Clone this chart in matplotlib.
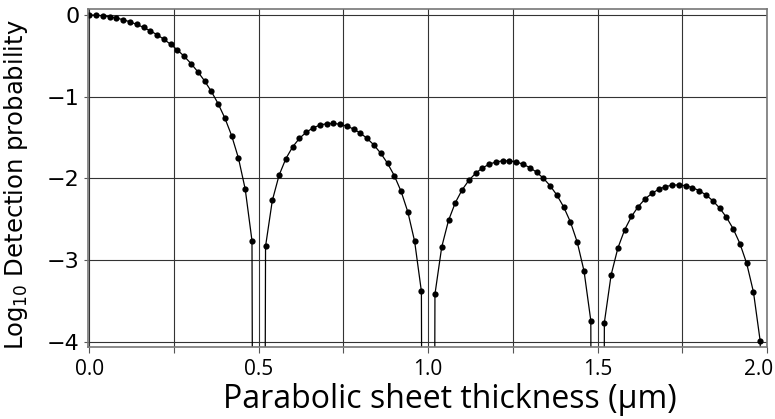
import numpy as np
import matplotlib
matplotlib.use('Agg')
import matplotlib.pyplot as plt
from matplotlib.ticker import MultipleLocator

# thickness in um, step 0.02
thickness = np.round(np.arange(101) * 0.02, 2)

# log10 detection probability (zeros fall far below the axis)
log_prob = [
    0.0, -0.002, -0.009, -0.021, -0.037, -0.058, -0.084, -0.115, -0.152, -0.194,
    -0.242, -0.297, -0.359, -0.428, -0.506, -0.594, -0.694, -0.806, -0.935, -1.085,
    -1.262, -1.477, -1.751, -2.131, -2.763, -32.0, -2.832, -2.270, -1.961, -1.758,
    -1.614, -1.510, -1.435, -1.382, -1.348, -1.330, -1.327, -1.337, -1.360, -1.396,
    -1.446, -1.511, -1.592, -1.692, -1.815, -1.966, -2.158, -2.411, -2.770, -3.383,
    -32.0, -3.417, -2.839, -2.515, -2.298, -2.141, -2.024, -1.937, -1.872, -1.827,
    -1.798, -1.785, -1.785, -1.799, -1.826, -1.868, -1.924, -1.998, -2.090, -2.205,
    -2.350, -2.535, -2.781, -3.134, -3.741, -32.0, -3.764, -3.180, -2.851, -2.628,
    -2.466, -2.345, -2.252, -2.184, -2.134, -2.101, -2.083, -2.079, -2.089, -2.113,
    -2.150, -2.203, -2.273, -2.362, -2.474, -2.615, -2.797, -3.040, -3.390, -3.994,
    -32.0,
]

x_ticks = [0.0, 0.5, 1.0, 1.5, 2.0]
x_tick_labels = ['0.0', '0.5', '1.0', '1.5', '2.0']
y_ticks = [0, -1, -2, -3, -4]
y_tick_labels = ['0', '\u22121', '\u22122', '\u22123', '\u22124']

fig = plt.figure(figsize=(7.75, 4.19), dpi=100)
ax = fig.add_axes([88/775, 1-346.7/419, 679/775, 337.4/419])

ax.plot(thickness, log_prob, color='black', linewidth=0.9,
        marker='o', markersize=4.5, markeredgewidth=0)

ax.set_xlim(-0.004, 2.0)
ax.set_ylim(-4.06, 0.07)

# last label (2.0) sits at the right edge, draw it separately nudged inwards
ax.set_xticks(x_ticks)
ax.set_xticklabels(x_tick_labels[:-1] + [''], fontfamily='Open Sans', fontsize=15)
ax.annotate(x_tick_labels[-1], xy=(x_ticks[-1], 0), xycoords=('data', 'axes fraction'),
            xytext=(-6, -9), textcoords='offset points', ha='center', va='top',
            fontfamily='Open Sans', fontsize=15, annotation_clip=False)
ax.xaxis.set_minor_locator(MultipleLocator(0.25))
ax.set_yticks(y_ticks)
ax.set_yticklabels(y_tick_labels, fontsize=16)

ax.grid(True, which='both', color='#333333', linewidth=0.8)
ax.tick_params(axis='x', which='both', length=4, width=0.8, color='#555555', pad=5)
ax.tick_params(axis='y', length=3, width=0.8, color='#555555', pad=3)
for sp in ax.spines.values():
    sp.set_color('#777777')
    sp.set_linewidth(1.2)

ax.set_xlabel('Parabolic sheet thickness (\u03bcm)', fontfamily='Open Sans', fontsize=23)
ax.xaxis.label.set_verticalalignment('baseline')
ax.xaxis.set_label_coords(0.533, -0.182)
ax.set_ylabel('Log$_{10}$ Detection probability', fontsize=17.5)
ax.yaxis.set_label_coords(-0.0854, 0.479)

fig.savefig('out.png', dpi=100)
